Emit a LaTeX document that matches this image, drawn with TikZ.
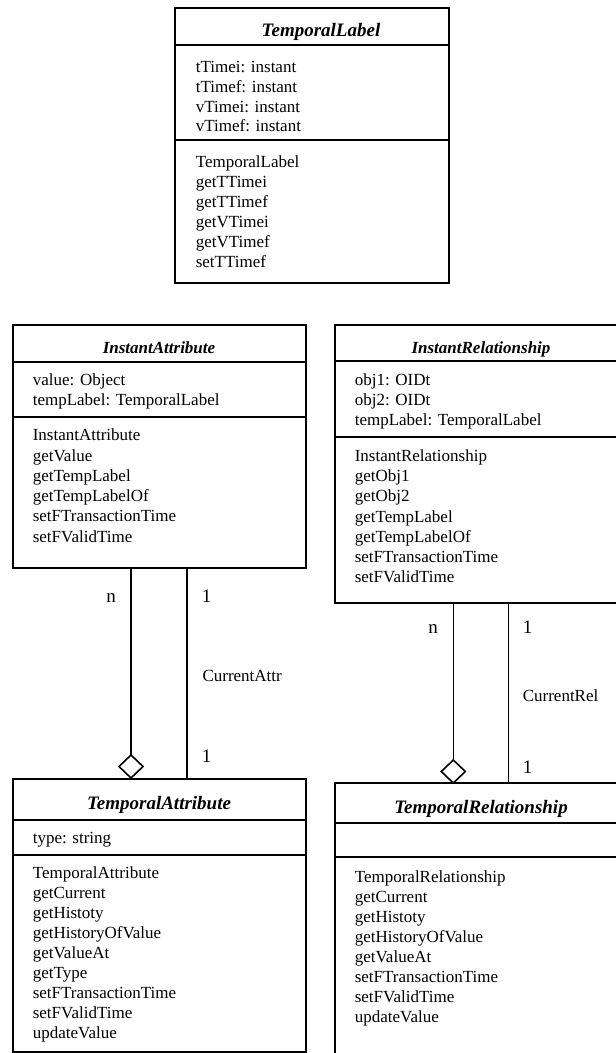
\documentclass[tikz,border=0pt]{standalone}
\usepackage{fontspec}
\setmainfont{Liberation Serif}
\usetikzlibrary{shapes.geometric}

\begin{document}
\begin{tikzpicture}[x=1pt,y=-1pt,
  line width=1.6pt,
  classbox/.style={draw, rectangle, inner sep=0pt, outer sep=0pt, anchor=north west},
  member/.style={anchor=base west, inner sep=0pt, font=\fontsize{17}{20}\selectfont},
  classname/.style={anchor=base, inner sep=0pt, font=\fontsize{17}{20}\selectfont\bfseries\itshape},
  bigname/.style={classname, font=\fontsize{19}{22}\selectfont\bfseries\itshape},
  mult/.style={anchor=base, inner sep=0pt, font=\fontsize{19}{22}\selectfont},
  rolename/.style={anchor=base west, inner sep=0pt, font=\fontsize{17}{20}\selectfont},
  agg/.style={draw, diamond, inner sep=0pt, outer sep=0pt, minimum width=24pt, minimum height=23pt},
]
\useasboundingbox (0,0) rectangle (616,1053);
\clip (0,0) rectangle (616,1053);

% ---------- TemporalLabel ----------
\node[classbox, minimum width=274pt, minimum height=275pt] (tl) at (175,8) {};
\draw (tl.west |- 0,45) -- (tl.east |- 0,45);
\draw (tl.west |- 0,140) -- (tl.east |- 0,140);
\node[bigname] (tl-name) at (321,36.5) {TemporalLabel};
\foreach \m [count=\k from 0] in {tTimei: instant, tTimef: instant, vTimei: instant, vTimef: instant}
  \node[member] (tl-a\k) at (195,{72.7+19.7*\k}) {\m};
\foreach \m [count=\k from 0] in {TemporalLabel, getTTimei, getTTimef, getVTimei, getVTimef, setTTimef}
  \node[member] (tl-o\k) at (195,{167.7+20*\k}) {\m};

% ---------- InstantAttribute ----------
\node[classbox, minimum width=293.3pt, minimum height=243pt] (ia) at (12.7,325) {};
\draw (ia.west |- 0,362) -- (ia.east |- 0,362);
\draw (ia.west |- 0,417) -- (ia.east |- 0,417);
\node[classname] (ia-name) at (159,353) {InstantAttribute};
\foreach \m [count=\k from 0] in {value: Object, tempLabel: TemporalLabel}
  \node[member] (ia-a\k) at (32,{385.7+20*\k}) {\m};
\foreach \m [count=\k from 0] in {InstantAttribute, getValue, getTempLabel, getTempLabelOf, setFTransactionTime, setFValidTime}
  \node[member] (ia-o\k) at (32,{440.7+20.3*\k}) {\m};

% ---------- TemporalAttribute ----------
\node[classbox, minimum width=293.3pt, minimum height=273pt] (ta) at (12.7,779) {};
\draw (ta.west |- 0,820) -- (ta.east |- 0,820);
\draw (ta.west |- 0,855) -- (ta.east |- 0,855);
\node[bigname] (ta-name) at (159,809.5) {TemporalAttribute};
\node[member] (ta-a0) at (32,843.7) {type: string};
\foreach \m [count=\k from 0] in {TemporalAttribute, getCurrent, getHistoty, getHistoryOfValue, getValueAt, getType, setFTransactionTime, setFValidTime, updateValue}
  \node[member] (ta-o\k) at (32,{878.7+20*\k}) {\m};

% ---------- InstantRelationship ----------
\node[classbox, minimum width=292pt, minimum height=278pt] (ir) at (335,325) {};
\draw (ir.west |- 0,361) -- (ir.east |- 0,361);
\draw (ir.west |- 0,437) -- (ir.east |- 0,437);
\node[classname] (ir-name) at (481,353) {InstantRelationship};
\foreach \m [count=\k from 0] in {obj1: OIDt, obj2: OIDt, tempLabel: TemporalLabel}
  \node[member] (ir-a\k) at (354,{385.7+20*\k}) {\m};
\foreach \m [count=\k from 0] in {InstantRelationship, getObj1, getObj2, getTempLabel, getTempLabelOf, setFTransactionTime, setFValidTime}
  \node[member] (ir-o\k) at (354,{461.7+20.1*\k}) {\m};

% ---------- TemporalRelationship ----------
\node[classbox, minimum width=292pt, minimum height=300pt] (tr) at (335,783) {};
\draw (tr.west |- 0,823) -- (tr.east |- 0,823);
\draw (tr.west |- 0,857) -- (tr.east |- 0,857);
\node[bigname] (tr-name) at (481,813.5) {TemporalRelationship};
\foreach \m [count=\k from 0] in {TemporalRelationship, getCurrent, getHistoty, getHistoryOfValue, getValueAt, setFTransactionTime, setFValidTime, updateValue}
  \node[member] (tr-o\k) at (354,{882.7+20*\k}) {\m};

% ---------- attribute associations ----------
\node[agg] (ia-agg) at (131,766.5) {};
\coordinate (ia-cur) at (187,700);
\draw (ia.south -| ia-agg) -- (ia-agg.north);
\draw (ia.south -| ia-cur) -- (ta.north -| ia-cur);
\node[mult] (ia-n) at (111,602) {n};
\node[mult] (ia-1a) at (206.5,602) {1};
\node[rolename] (ia-role) at (201.7,681) {CurrentAttr};
\node[mult] (ia-1b) at (206.5,762) {1};

% ---------- relationship associations ----------
\node[agg] (ir-agg) at (453.3,771.5) {};
\coordinate (ir-cur) at (508.3,700);
\draw (ir.south -| ir-agg) -- (ir-agg.north);
\draw (ir.south -| ir-cur) -- (tr.north -| ir-cur);
\node[mult] (ir-n) at (433,633) {n};
\node[mult] (ir-1a) at (527.5,633) {1};
\node[rolename] (ir-role) at (522,701) {CurrentRel};
\node[mult] (ir-1b) at (527.5,773) {1};
\end{tikzpicture}
\end{document}
